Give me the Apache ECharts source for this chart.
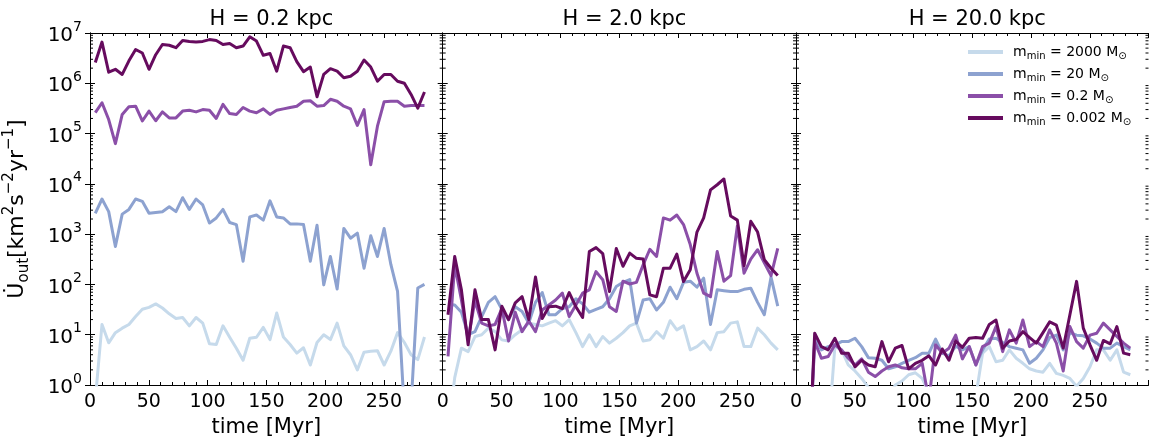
<!DOCTYPE html>
<html>
<head>
<meta charset="utf-8">
<script src="https://cdn.jsdelivr.net/npm/echarts@6/dist/echarts.min.js"></script>
<style>
  html, body { margin: 0; padding: 0; background: #fff; }
  #chart { width: 1153px; height: 444px; }
</style>
</head>
<body>
<div id="chart"></div>
<script>
// Snapshot times (Myr)
const times = [4.5, 10.2, 15.9, 21.6, 27.4, 33.1, 38.8, 44.5, 50.2, 55.9,
  61.6, 67.4, 73.1, 78.8, 84.5, 90.2, 95.9, 101.6, 107.4, 113.1,
  118.8, 124.5, 130.2, 135.9, 141.6, 147.4, 153.1, 158.8, 164.5, 170.2,
  175.9, 181.6, 187.4, 193.1, 198.8, 204.5, 210.2, 215.9, 221.6, 227.4,
  233.1, 238.8, 244.5, 250.2, 255.9, 261.6, 267.4, 273.1, 278.8, 284.5];

const panelTitles = ['H = 0.2 kpc', 'H = 2.0 kpc', 'H = 20.0 kpc'];
const massLabels = ['2000', '20', '0.2', '0.002'];
const lineColors = ['#c6daeb', '#8da2d0', '#8b4fa8', '#660b5e'];

// H = 0.2 kpc
const h02_m2000 = [0.5, 16, 6.9, 11, 13.5, 16, 23, 32, 35, 41, 34, 26, 21, 22, 15, 22, 17, 6.6, 6.4, 15,
  8.9, 5.4, 3.1, 8.5, 8.9, 14, 8, 27, 9, 6.4, 4.3, 5.5, 2.5, 7, 10, 8, 17, 6, 4, 2,
  4.5, 4.7, 4.8, 2.5, 4.7, 11, 7, 4, 3.2, 9];
const h02_m20 = [2.6e3, 5.0e3, 2.8e3, 570, 2.5e3, 3.1e3, 5.0e3, 4.5e3, 2.6e3, 2.7e3, 2.8e3, 3.5e3, 2.8e3, 5.3e3, 3.1e3, 5.0e3, 3.8e3, 1.66e3, 2.1e3, 3.1e3,
  1.7e3, 1.55e3, 290, 2.2e3, 2.4e3, 1.9e3, 4.6e3, 2.2e3, 2.1e3, 1.6e3, 1.6e3, 1.55e3, 290, 1.5e3, 98, 360, 81, 1.3e3, 830, 1.05e3,
  210, 930, 360, 1.3e3, 250, 73, 0.3, 0.4, 85, 100];
const h02_m02 = [2.6e5, 4.1e5, 1.9e5, 6.3e4, 2.4e5, 3.4e5, 3.5e5, 1.78e5, 2.8e5, 1.8e5, 2.7e5, 2.05e5, 2.05e5, 2.8e5, 2.9e5, 2.7e5, 3.0e5, 2.9e5, 2.0e5, 3.8e5,
  2.5e5, 2.4e5, 3.3e5, 2.8e5, 2.6e5, 3.1e5, 2.4e5, 2.9e5, 3.1e5, 3.3e5, 3.5e5, 4.4e5, 4.5e5, 3.5e5, 3.6e5, 4.8e5, 4.4e5, 3.5e5, 3.1e5, 1.45e5,
  3.0e5, 2.4e4, 1.4e5, 4.3e5, 4.4e5, 4.4e5, 3.5e5, 3.6e5, 3.6e5, 3.6e5];
const h02_m0002 = [2.6e6, 6.6e6, 1.66e6, 1.9e6, 1.5e6, 2.8e6, 4.7e6, 4.0e6, 1.9e6, 3.7e6, 5.9e6, 5.7e6, 5.1e6, 7.1e6, 6.8e6, 6.6e6, 6.8e6, 7.4e6, 7.1e6, 5.9e6,
  6.2e6, 5.1e6, 5.5e6, 8.4e6, 6.9e6, 3.6e6, 3.9e6, 1.74e6, 5.5e6, 5.1e6, 2.7e6, 1.7e6, 2.1e6, 5.4e5, 1.5e6, 1.95e6, 1.75e6, 1.29e6, 1.38e6, 1.74e6,
  2.9e6, 2.1e6, 1.1e6, 1.5e6, 1.5e6, 1.1e6, 1.0e6, 6.0e5, 3.2e5, 6.7e5];

// H = 2.0 kpc
const h2_m2000 = [0.1, 1.4, 5.4, 4.6, 9.2, 10, 13.5, 11.5, 7.9, 7.5, 10, 12.5, 17, 16, 15, 17, 19, 15, 20, 11,
  5.8, 10, 5.8, 9.2, 6.8, 8.5, 11, 15, 17, 7.5, 7.9, 11.5, 8.5, 19, 12.5, 15, 5, 5.8, 7.5, 5,
  11, 11.5, 17, 18, 5.8, 5.8, 13.5, 10, 6.8, 5];
const h2_m20 = [40, 39, 28, 10, 11.5, 23, 44, 57, 32, 20, 36, 29, 17, 44, 69, 25, 25, 33, 36, 52,
  41, 28, 32, 36, 52, 91, 110, 125, 17, 49, 52, 31, 44, 88, 52, 110, 116, 88, 133, 16,
  78, 75, 72, 72, 80, 84, 44, 25, 140, 37];
const h2_m02 = [3.7, 245, 49, 7.9, 48, 17, 15, 16, 33, 7.5, 28, 11.5, 18.8, 11.5, 31, 39, 49, 67, 23, 39,
  67, 78, 180, 124, 36, 29, 116, 102, 110, 245, 500, 360, 2100, 1900, 2400, 1550, 620, 167, 67, 57,
  450, 116, 150, 1450, 167, 320, 490, 270, 150, 520];
const h2_m0002 = [25, 360, 78, 6.3, 78, 20, 20, 5, 37, 20, 43, 57, 20, 140, 21, 36, 37, 33, 69, 36,
  22, 450, 540, 410, 72, 520, 230, 420, 330, 320, 62, 57, 210, 210, 400, 114, 195, 1100, 2100, 7600,
  9600, 12500, 2300, 1900, 235, 1800, 1100, 310, 210, 150];

// H = 20.0 kpc
const h20_m2000 = [0.01, 0.01, 0.01, 0.01, 0.1, 5.8, 5, 2.5, 1.9, 1.35, 0.9, 0.5, 0.5, 0.6, 1.0, 1.2, 1.6, 1.75, 1.35, 0.7,
  0.5, 0.5, 0.6, 0.5, 0.5, 0.6, 0.6, 4.3, 5.8, 2.9, 3.1, 5, 3.4, 2.7, 2.1, 1.9, 1.8, 2.7, 1.7, 1.55,
  1.35, 0.95, 1.35, 2.3, 5, 5, 3.1, 5, 1.8, 1.6];
const h20_m20 = [0.01, 0.01, 8.5, 5, 5.8, 6.3, 7.3, 7.3, 8.5, 5.8, 3.5, 3.4, 3.1, 2.1, 2.3, 2.7, 3.1, 3.5, 4.3, 4.3,
  8.2, 4.3, 3.8, 5.9, 5, 5.8, 2.5, 5, 8.2, 8.5, 7, 5.8, 5.4, 5, 2.7, 3.4, 5, 8.8, 9.8, 5,
  11, 9.8, 9.5, 8.2, 6.8, 5.4, 5.4, 6.8, 5.8, 5];
const h20_m02 = [0.01, 0.01, 7.3, 3.4, 3.7, 6.3, 5, 3.4, 2.5, 3.3, 1.8, 1.47, 1.9, 2.3, 2.5, 2.2, 2.1, 2.1, 2.7, 0.5,
  6.3, 4.3, 5.4, 9.8, 3.3, 5.8, 2.5, 5.8, 6.8, 14.5, 4.6, 12.5, 6.8, 19.6, 5.8, 7.3, 5.8, 12.5, 6.8, 1.9,
  14.5, 7.3, 5.4, 9.8, 10.7, 17, 12.5, 9.2, 6.8, 5.4];
const h20_m0002 = [0.01, 0.01, 10.7, 5.8, 5.0, 8.5, 4.3, 4.3, 2.3, 3.1, 2.5, 2.3, 7.3, 2.9, 5.4, 6.1, 2.1, 2.7, 3.1, 3.8,
  2.5, 5.2, 3.1, 7.5, 5.6, 8.5, 8.8, 8.5, 16, 19.6, 5.4, 7.5, 8, 11.5, 8.8, 6.8, 11, 18, 15.5, 5.4,
  25, 115, 13.5, 6.3, 3.1, 7.7, 6.6, 14.5, 4.3, 4];

const panels = [
  [h02_m2000, h02_m20, h02_m02, h02_m0002],
  [h2_m2000, h2_m20, h2_m02, h2_m0002],
  [h20_m2000, h20_m20, h20_m02, h20_m0002]
];

const FONT = 'DejaVu Sans';
const X_MAX = 300;
const grids = [
  { left: 90, top: 33, width: 352.7, height: 352 },
  { left: 442.7, top: 33, width: 353.3, height: 352 },
  { left: 796, top: 33, width: 352.5, height: 352 }
];

const seriesNames = massLabels.map(m => 'm_min = ' + m + ' M_sun');

// log-axis minor tick values: 2..9 x 10^k
const minorLogVals = [];
for (let k = 0; k < 7; k++) for (let m = 2; m <= 9; m++) minorLogVals.push([0, m * Math.pow(10, k)]);

const axisLineStyle = { color: '#000', width: 1 };
const xAxes = [], yAxes = [], series = [];

grids.forEach((g, gi) => {
  const xBase = {
    type: 'value', gridIndex: gi, min: 0, max: X_MAX, interval: 50,
    axisLine: { show: true, onZero: false, lineStyle: axisLineStyle },
    axisTick: { show: true, inside: true, length: 5, lineStyle: { color: '#000', width: 1 } },
    minorTick: { show: true, splitNumber: 5, length: 3, lineStyle: { color: '#000', width: 1 } },
    splitLine: { show: false }, minorSplitLine: { show: false }
  };
  xAxes.push(Object.assign({}, xBase, {
    position: 'bottom',
    axisLabel: {
      fontFamily: FONT, fontSize: 19, color: '#000', margin: 8,
      formatter: v => (v >= X_MAX ? '' : String(v))
    },
    name: 'time [Myr]', nameLocation: 'middle', nameGap: 32,
    nameTextStyle: { fontFamily: FONT, fontSize: 21, color: '#000' }
  }));
  xAxes.push(Object.assign({}, xBase, { position: 'top', axisLabel: { show: false } }));

  const yBase = {
    type: 'log', logBase: 10, gridIndex: gi, min: 1, max: 1e7,
    axisLine: { show: true, lineStyle: axisLineStyle },
    axisTick: { show: true, inside: true, length: 5, lineStyle: { color: '#000', width: 1 } },
    splitLine: { show: false }
  };
  const yLeft = Object.assign({}, yBase, { position: 'left', axisLabel: { show: false } });
  if (gi === 0) {
    yLeft.axisLabel = {
      show: true, margin: 8,
      formatter: v => '{b|10}{p|' + Math.round(Math.log10(v)) + '}',
      rich: {
        b: { fontFamily: FONT, fontSize: 20, color: '#000', lineHeight: 26, verticalAlign: 'bottom' },
        p: { fontFamily: FONT, fontSize: 14, color: '#000', lineHeight: 14, verticalAlign: 'top' }
      }
    };
    yLeft.name = '{a|U\u0307}{s|out}{a|[km}{p|2}{a|s}{p|\u22122}{a|yr}{p|\u22121}{a|]}';
    yLeft.nameLocation = 'middle';
    yLeft.nameRotate = 90;
    yLeft.nameGap = 58;
    yLeft.nameTextStyle = {
      rich: {
        a: { fontFamily: FONT, fontSize: 22, color: '#000', lineHeight: 30, verticalAlign: 'middle' },
        s: { fontFamily: FONT, fontSize: 15, color: '#000', lineHeight: 15, verticalAlign: 'bottom' },
        p: { fontFamily: FONT, fontSize: 15, color: '#000', lineHeight: 15, verticalAlign: 'top' }
      }
    };
  }
  yAxes.push(yLeft);
  yAxes.push(Object.assign({}, yBase, { position: 'right', axisLabel: { show: false } }));

  // four mass resolutions
  panels[gi].forEach((vals, si) => {
    series.push({
      name: seriesNames[si], type: 'line',
      xAxisIndex: gi * 2, yAxisIndex: gi * 2,
      data: times.map((t, i) => [t, vals[i]]),
      showSymbol: false, symbol: 'none', clip: true,
      lineStyle: { color: lineColors[si], width: 3, join: 'round' },
      itemStyle: { color: lineColors[si] },
      z: 2 + si
    });
  });

  // minor ticks of the log axis on the left and right edges
  series.push({
    type: 'custom', xAxisIndex: gi * 2, yAxisIndex: gi * 2, silent: true, z: 10,
    data: minorLogVals,
    renderItem: (params, api) => {
      const v = api.value(1);
      const l = api.coord([0, v]);
      const r = api.coord([X_MAX, v]);
      return {
        type: 'group', children: [
          { type: 'line', shape: { x1: l[0], y1: l[1], x2: l[0] + 3, y2: l[1] }, style: { stroke: '#000', lineWidth: 1 } },
          { type: 'line', shape: { x1: r[0] - 3, y1: r[1], x2: r[0], y2: r[1] }, style: { stroke: '#000', lineWidth: 1 } }
        ]
      };
    }
  });
});

const chart = echarts.init(document.getElementById('chart'), null, { renderer: 'canvas' });
chart.setOption({
  animation: false,
  backgroundColor: '#fff',
  title: panelTitles.map((t, i) => ({
    text: t, left: grids[i].left + grids[i].width / 2, top: 4, textAlign: 'center',
    textStyle: { fontFamily: FONT, fontSize: 21, fontWeight: 'normal', color: '#000' }
  })),
  legend: {
    orient: 'vertical', left: 968, top: 45, padding: 0,
    itemWidth: 35, itemHeight: 4, itemGap: 6, icon: 'rect',
    data: seriesNames,
    formatter: name => {
      const m = massLabels[seriesNames.indexOf(name)];
      return '{b|m}{s|min}{b| = ' + m + ' M}{s|\u2299}';
    },
    textStyle: {
      padding: [0, 0, 0, 5],
      rich: {
        b: { fontFamily: FONT, fontSize: 14, color: '#000', lineHeight: 18, verticalAlign: 'middle' },
        s: { fontFamily: FONT, fontSize: 10, color: '#000', lineHeight: 10, verticalAlign: 'bottom' }
      }
    }
  },
  grid: grids,
  xAxis: xAxes,
  yAxis: yAxes,
  series: series
});
</script>
</body>
</html>
